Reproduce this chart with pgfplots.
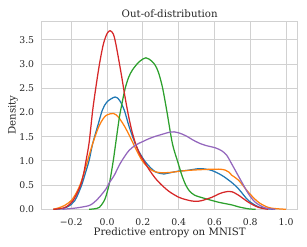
\documentclass[border=0pt]{standalone}
\usepackage{fontspec}
\setmainfont{DejaVu Serif}
\usepackage{pgfplots}
\pgfplotsset{compat=1.18}
\definecolor{sbblue}{HTML}{1F77B4}
\definecolor{sborange}{HTML}{FF7F0E}
\definecolor{sbgreen}{HTML}{2CA02C}
\definecolor{sbred}{HTML}{D62728}
\definecolor{sbpurple}{HTML}{9467BD}
\definecolor{gridc}{gray}{0.82}
\definecolor{txt}{gray}{0.15}
\begin{document}
\begin{tikzpicture}
\begin{axis}[
  at={(0pt,0pt)}, anchor=south west,
  width=256pt, height=188.3pt, scale only axis,
  xmin=-0.365, xmax=1.065, ymin=0, ymax=3.89,
  xtick={-0.2,0,0.2,0.4,0.6,0.8,1.0},
  xticklabels={−0.2,0.0,0.2,0.4,0.6,0.8,1.0},
  ytick={0,0.5,1,1.5,2,2.5,3,3.5},
  yticklabels={0.0,0.5,1.0,1.5,2.0,2.5,3.0,3.5},
  grid=major, major grid style={gridc, line width=0.9pt},
  axis line style={gridc, line width=0.9pt},
  major tick length=0pt,
  tick label style={font=\fontsize{9.3}{10}\selectfont, text=txt},
  xticklabel style={yshift=-5.5pt},
  yticklabel style={xshift=-4pt},
  title={Out-of-distribution},
  every axis title/.style={at={(axis description cs:0.5,1)}, anchor=base, yshift=4pt, font=\fontsize{10.2}{11}\selectfont, text=txt},
  xlabel={Predictive entropy on MNIST},
  ylabel={Density},
  every axis x label/.style={at={(axis description cs:0.5,0)}, anchor=base, yshift=-25.7pt, font=\fontsize{10.2}{11}\selectfont, text=txt},
  every axis y label/.style={at={(axis description cs:-0.112,0.5)}, anchor=center, rotate=90, font=\fontsize{10.2}{11}\selectfont, text=txt},
  every axis plot/.append style={line width=1.25pt, smooth, tension=0.5, line join=round},
]
% blue
\addplot[sbblue] coordinates {
(-0.30,0) (-0.24,0.02) (-0.20,0.10) (-0.18,0.18) (-0.16,0.33) (-0.139,0.53) (-0.12,0.76) (-0.10,1.01) (-0.08,1.36) (-0.05,1.75) (-0.026,2.05) (0.0,2.22) (0.045,2.32) (0.07,2.25) (0.096,2.05) (0.124,1.70) (0.157,1.36) (0.18,1.18) (0.21,1.0) (0.24,0.87) (0.272,0.77) (0.318,0.73) (0.346,0.75) (0.40,0.79) (0.44,0.80) (0.513,0.84) (0.55,0.83) (0.587,0.80) (0.642,0.70) (0.698,0.55) (0.735,0.42) (0.79,0.18) (0.846,0.05) (0.90,0.01) (0.93,0)
};
% orange
\addplot[sborange] coordinates {
(-0.30,0) (-0.27,0.03) (-0.237,0.08) (-0.20,0.18) (-0.17,0.35) (-0.148,0.53) (-0.128,0.76) (-0.108,1.01) (-0.08,1.36) (-0.047,1.70) (-0.02,1.88) (0.0,1.95) (0.035,1.98) (0.06,1.92) (0.08,1.82) (0.10,1.70) (0.124,1.53) (0.146,1.36) (0.17,1.18) (0.195,1.01) (0.22,0.90) (0.253,0.80) (0.29,0.76) (0.346,0.76) (0.44,0.80) (0.53,0.82) (0.624,0.83) (0.66,0.81) (0.68,0.77) (0.698,0.70) (0.735,0.60) (0.79,0.35) (0.846,0.145) (0.90,0.04) (0.94,0.015) (1.00,0)
};
% green
\addplot[sbgreen] coordinates {
(-0.10,0) (-0.07,0.01) (-0.043,0.04) (-0.02,0.15) (-0.006,0.27) (0.015,0.57) (0.035,1.01) (0.046,1.30) (0.068,1.88) (0.08,2.12) (0.10,2.48) (0.12,2.72) (0.142,2.88) (0.18,3.05) (0.217,3.13) (0.25,3.06) (0.27,2.97) (0.287,2.83) (0.309,2.53) (0.333,2.05) (0.365,1.36) (0.395,0.98) (0.42,0.68) (0.44,0.50) (0.46,0.38) (0.49,0.29) (0.55,0.22) (0.624,0.145) (0.698,0.09) (0.735,0.05) (0.79,0.01) (0.83,0)
};
% red
\addplot[sbred] coordinates {
(-0.30,0) (-0.25,0.02) (-0.22,0.07) (-0.19,0.18) (-0.165,0.35) (-0.145,0.53) (-0.13,0.75) (-0.117,1.01) (-0.10,1.38) (-0.08,2.05) (-0.06,2.58) (-0.04,3.05) (-0.02,3.42) (0.0,3.63) (0.017,3.69) (0.035,3.62) (0.05,3.40) (0.08,2.78) (0.10,2.33) (0.12,1.93) (0.14,1.60) (0.16,1.35) (0.18,1.16) (0.20,1.03) (0.235,0.82) (0.27,0.64) (0.30,0.52) (0.346,0.37) (0.40,0.25) (0.44,0.20) (0.476,0.17) (0.50,0.165) (0.53,0.18) (0.587,0.25) (0.62,0.31) (0.65,0.35) (0.68,0.37) (0.70,0.36) (0.735,0.29) (0.79,0.145) (0.846,0.04) (0.90,0)
};
% purple
\addplot[sbpurple] coordinates {
(-0.25,0) (-0.19,0.02) (-0.15,0.04) (-0.098,0.08) (-0.07,0.15) (-0.043,0.25) (-0.006,0.42) (0.013,0.55) (0.04,0.70) (0.068,0.91) (0.096,1.08) (0.124,1.22) (0.161,1.33) (0.20,1.40) (0.235,1.46) (0.272,1.51) (0.309,1.55) (0.346,1.59) (0.375,1.60) (0.40,1.58) (0.44,1.52) (0.476,1.44) (0.513,1.37) (0.55,1.32) (0.605,1.27) (0.64,1.21) (0.668,1.12) (0.69,0.98) (0.717,0.80) (0.753,0.56) (0.79,0.32) (0.828,0.145) (0.883,0.03) (0.94,0)
};
\end{axis}
\pgfresetboundingbox
\path[use as bounding box] (-41.7pt,-36.7pt) rectangle (265.3pt,209.3pt);
\end{tikzpicture}
\end{document}
